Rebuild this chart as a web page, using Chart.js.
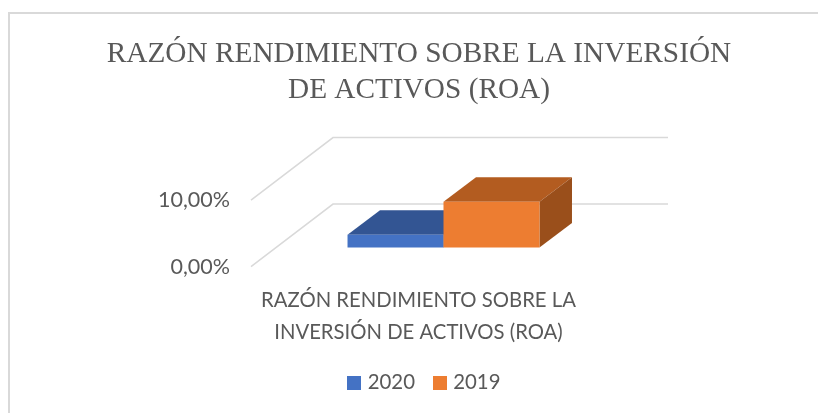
<!DOCTYPE html>
<html>
<head>
<meta charset="utf-8">
<title>ROA</title>
<script src="https://cdn.jsdelivr.net/npm/chart.js@4"></script>
<style>
	html, body { margin: 0; padding: 0; background: #fff; width: 818px; height: 413px; overflow: hidden; }
	#frame { position: absolute; left: 8px; top: 12px; width: 810px; height: 401px; border-left: 2px solid #d9d9d9; border-top: 2px solid #d9d9d9; }
	#roaChart { position: absolute; left: 10px; top: 0; }
</style>
</head>
<body>
<div id="frame"></div>
<canvas id="roaChart" width="818" height="413"></canvas>
<script>
const chartTitle = ["RAZÓN RENDIMIENTO SOBRE LA INVERSIÓN", "DE ACTIVOS (ROA)"];
const categories = [["RAZÓN RENDIMIENTO SOBRE LA", "INVERSIÓN DE ACTIVOS (ROA)"]];
const seriesNames = ["2020", "2019"];
const values2020 = [1.95];
const values2019 = [6.9];
const tickLabels = ["0,00%", "10,00%"];

const GREY = "#595959";
const WALL = { dx: 82, dy: -62.5 };   // back wall offset from the front plane
const FLOOR = { dx: 25, dy: -19 };    // where the bars stand on the floor
const DEPTH = { dx: 32.5, dy: -24.5 }; // depth of a bar
const TOPS = ["#335593", "#b35c20"];
const SIDES = ["#2a4674", "#9a4f1b"];

function face(ctx, points, color) {
	ctx.fillStyle = color;
	ctx.beginPath();
	points.forEach((p, i) => i ? ctx.lineTo(p[0], p[1]) : ctx.moveTo(p[0], p[1]));
	ctx.closePath();
	ctx.fill();
}

// top and side faces for the bars of one dataset, leaves ctx translated
function drawFaces(chart, meta) {
	const ctx = chart.ctx;
	ctx.save();
	ctx.translate(FLOOR.dx, FLOOR.dy);
	meta.data.forEach(bar => {
		const { x, y, base, width } = bar.getProps(["x", "y", "base", "width"], true);
		const l = x - width / 2, r = x + width / 2;
		face(ctx, [[l, y], [r, y], [r + DEPTH.dx, y + DEPTH.dy], [l + DEPTH.dx, y + DEPTH.dy]], TOPS[meta.index]);
		face(ctx, [[r, y], [r + DEPTH.dx, y + DEPTH.dy], [r + DEPTH.dx, base + DEPTH.dy], [r, base]], SIDES[meta.index]);
	});
}

// legend swatch: wider than the legend box so the text sits closer to it
function swatch(color) {
	const c = document.createElement("canvas");
	c.width = 14;
	c.height = 14;
	const g = c.getContext("2d");
	g.fillStyle = color;
	g.fillRect(0, 0, 14, 14);
	return c;
}

// fake 3D: walls from the y scale, bar faces from the bar elements
const fake3d = {
	id: "fake3d",
	afterLayout(chart) {
		chart.legend.left += 7;
		chart.legend.right += 7;
	},
	beforeDatasetsDraw(chart) {
		const { ctx, chartArea, scales } = chart;
		ctx.save();
		ctx.strokeStyle = "#d9d9d9";
		ctx.lineWidth = 1.5;
		scales.y.ticks.forEach(t => {
			const y = scales.y.getPixelForValue(t.value);
			ctx.beginPath();
			ctx.moveTo(chartArea.left, y);
			ctx.lineTo(chartArea.left + WALL.dx, y + WALL.dy);
			ctx.lineTo(chartArea.right + WALL.dx, y + WALL.dy);
			ctx.stroke();
		});
		ctx.restore();
	},
	beforeDatasetDraw(chart, args) {
		// Chart.js paints the first dataset last, but the 2019 box has to cover 2020
		if (args.index === 0) return false;
		const first = chart.getDatasetMeta(0);
		drawFaces(chart, first);
		first.controller.draw();
		chart.ctx.restore();
		drawFaces(chart, args.meta);
	},
	afterDatasetDraw(chart) {
		chart.ctx.restore();
	}
};

new Chart(document.getElementById("roaChart"), {
	type: "bar",
	data: {
		labels: categories,
		datasets: [
			{ label: seriesNames[0], data: values2020, backgroundColor: "#4472c4", pointStyle: swatch("#4472c4"), clip: false },
			{ label: seriesNames[1], data: values2019, backgroundColor: "#ed7d31", pointStyle: swatch("#ed7d31"), clip: false }
		]
	},
	options: {
		responsive: false,
		animation: false,
		layout: { padding: { bottom: 10 } },
		datasets: { bar: { categoryPercentage: 0.573, barPercentage: 1 } },
		scales: {
			x: {
				grid: { display: false },
				border: { display: false },
				ticks: { color: GREY, font: { family: "Lato", size: 20.3, lineHeight: 1.57 }, padding: 10, maxRotation: 0 },
				afterFit(scale) { scale.height = 84; }
			},
			y: {
				min: 0,
				max: 10,
				grid: { display: false, drawTicks: false },
				border: { display: false },
				ticks: {
					stepSize: 10,
					color: GREY,
					font: { family: "Lato", size: 21.5 },
					padding: 21,
					callback: (v, i) => tickLabels[i]
				},
				afterFit(scale) { scale.width = 241; }
			},
			yRight: {
				position: "right",
				grid: { display: false, drawTicks: false },
				border: { display: false },
				ticks: { display: false },
				afterFit(scale) { scale.width = 242; }
			}
		},
		plugins: {
			title: {
				display: true,
				text: chartTitle,
				color: GREY,
				font: { family: "Liberation Serif", size: 29.3, weight: "normal", lineHeight: 1.23 },
				padding: { top: 36, bottom: 92 }
			},
			legend: {
				position: "bottom",
				labels: { color: GREY, font: { family: "Lato", size: 20.4 }, usePointStyle: true, boxWidth: 6, boxHeight: 14, padding: 22 }
			},
			tooltip: { enabled: false }
		}
	},
	plugins: [fake3d]
});
</script>
</body>
</html>
